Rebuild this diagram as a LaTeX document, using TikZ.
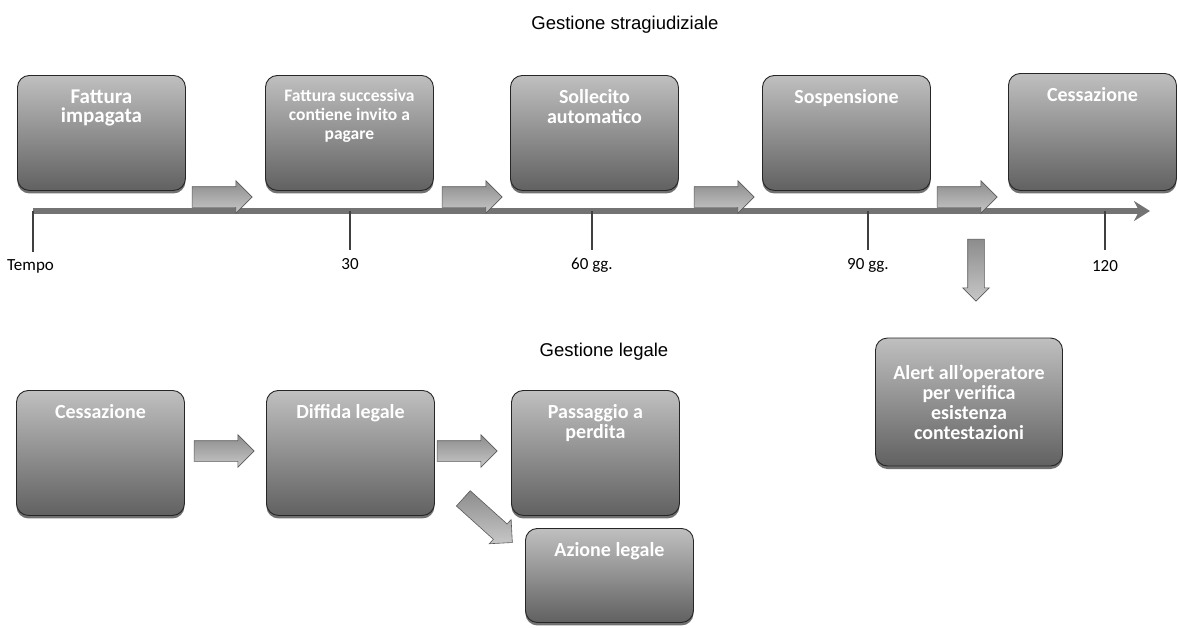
\documentclass[tikz,border=0pt]{standalone}
\usepackage{fontspec}
\setmainfont{Carlito}
\newfontfamily\arialfont{Liberation Sans}
\usepackage{tikz}
\usetikzlibrary{positioning,shapes.arrows,shadows,arrows.meta}

\newcommand{\intesta}[2]{\parbox[t][#1][t]{150pt}{\centering #2}}

\tikzset{
  stepbox/.style={draw=black!85, line width=0.9pt, rounded corners=12pt,
    top color=black!25, bottom color=black!62,
    drop shadow={shadow xshift=0pt, shadow yshift=-3pt, fill=black!80, opacity=0.7},
    inner xsep=9pt, inner ysep=14pt, anchor=north west, text=white,
    font=\bfseries\fontsize{20}{20}\selectfont},
  blockarrow/.style={single arrow, draw=black!65, line width=0.6pt,
    top color=black!45, bottom color=black!22, inner xsep=0pt, inner ysep=10pt,
    minimum height=60pt, single arrow head extend=6pt},
  tickline/.style={line width=2.5pt, black!75},
  daylabel/.style={font=\fontsize{17}{19}\selectfont, inner sep=0pt},
  titolo/.style={font=\arialfont\fontsize{18.5}{20}\selectfont, inner sep=0pt}
}

\begin{document}
\begin{tikzpicture}[x=1pt, y=-1pt]
  \useasboundingbox (0,0) rectangle (1178,627);

  % gestione stragiudiziale
  \node[titolo] (stragiud) at (625,25) {Gestione stragiudiziale};

  \node[stepbox, font=\bfseries\fontsize{21}{19}\selectfont] (fattura) at (17,75) {\intesta{87pt}{Fattura\\impagata}};
  \node[stepbox, font=\bfseries\fontsize{17.5}{19}\selectfont] (invito) at (265,75) {\intesta{87pt}{Fattura successiva\\contiene invito a\\pagare}};
  \node[stepbox] (sollecito) at (510,75) {\intesta{87pt}{Sollecito\\automatico}};
  \node[stepbox] (sospensione) at (762,75) {\intesta{87pt}{Sospensione}};
  \node[stepbox] (cessazione) at (1008,73) {\intesta{89pt}{Cessazione}};

  % linea del tempo
  \coordinate (m0) at (33,211);
  \coordinate (m1) at (350,211);
  \coordinate (m2) at (592,211);
  \coordinate (m3) at (868,211);
  \coordinate (m4) at (1105,211);
  \coordinate (fine) at (1150,211);
  \draw [line width=6pt, black!55, -{Stealth[length=16pt, width=20pt]}] (m0) -- (fine);

  \draw [tickline] (m0) -- ++(0,41) coordinate (m0e);
  \draw [tickline] (m1) -- ++(0,39) coordinate (m1e);
  \draw [tickline] (m2) -- ++(0,39) coordinate (m2e);
  \draw [tickline] (m3) -- ++(0,39) coordinate (m3e);
  \draw [tickline] (m4) -- ++(0,39) coordinate (m4e);

  \node[daylabel, anchor=north west] (tempo) at (7,259) {Tempo};
  \node[daylabel, below=8pt of m1e] (d30) {30};
  \node[daylabel, below=8pt of m2e] (d60) {60 gg.};
  \node[daylabel, below=8pt of m3e] (d90) {90 gg.};
  \node[daylabel, below=10pt of m4e] (d120) {120};

  \node[blockarrow] (go1) at (217,197) {};
  \node[blockarrow] (go2) at (467,197) {};
  \node[blockarrow] (go3) at (719,197) {};
  \node[blockarrow] (go4) at (962,197) {};

  \node[blockarrow, minimum height=62pt, inner ysep=8pt, single arrow head extend=5pt,
        rotate=-90] (giu) at (976,266) {};

  \node[stepbox, anchor=center, minimum width=187pt, minimum height=128pt,
        inner ysep=4pt, align=center] (alert) at (969,402)
        {Alert all'operatore\\per verifica\\esistenza\\contestazioni};

  % gestione legale
  \node[titolo] (legale) at (604,352) {Gestione legale};

  \node[stepbox] (cessLeg) at (16,390) {\intesta{97pt}{Cessazione}};
  \node[stepbox] (diffida) at (266,390) {\intesta{97pt}{Diffida legale}};
  \node[stepbox] (passaggio) at (511,390) {\intesta{97pt}{Passaggio a\\perdita}};
  \node[stepbox] (azione) at (525,528) {\intesta{66pt}{Azione legale}};

  \node[blockarrow] (go5) at (219,451) {};
  \node[blockarrow] (go6) at (462,451) {};
  \node[blockarrow, minimum height=66pt, rotate=-42] (go7) at (484,517) {};
\end{tikzpicture}
\end{document}
